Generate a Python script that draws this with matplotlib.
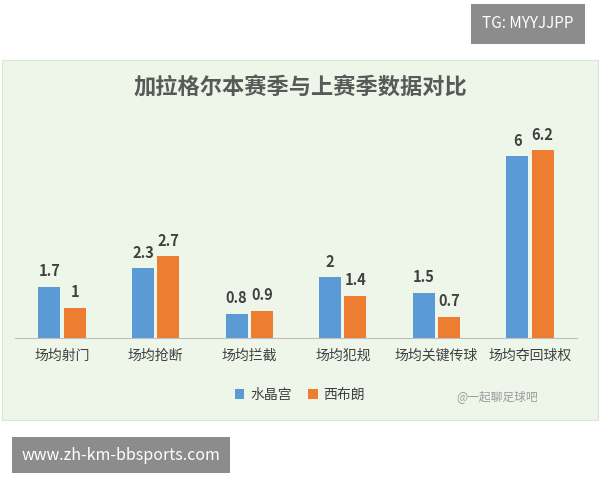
import matplotlib.pyplot as plt
from matplotlib.patches import Rectangle
import numpy as np

plt.rcParams['font.family'] = ['Noto Sans CJK SC', 'DejaVu Sans']

categories = ['场均射门', '场均抢断', '场均拦截', '场均犯规', '场均关键传球', '场均夺回球权']
palace = [1.7, 2.3, 0.8, 2, 1.5, 6]
wba = [1, 2.7, 0.9, 1.4, 0.7, 6.2]
series_names = ['水晶宫', '西布朗']
colors = ['#5b9bd5', '#ed7d31']

fig = plt.figure(figsize=(6, 4.8), dpi=100)
fig.patch.set_facecolor('white')

# light green chart panel
fig.add_artist(Rectangle((0.003, 1 - 420 / 480), 0.994, 360 / 480,
                         transform=fig.transFigure, facecolor='#eef6ea',
                         edgecolor='#d9e6d3', lw=0.8, zorder=0))

ax = fig.add_axes([15.2 / 600, 1 - 338 / 480, 561.6 / 600, 212 / 480])
ax.set_facecolor('none')
x = np.arange(len(categories))
w = 0.235
off = 0.135
ax.bar(x - off, palace, w, color=colors[0], label=series_names[0])
ax.bar(x + off, wba, w, color=colors[1], label=series_names[1])
for xi, a, b in zip(x, palace, wba):
    ax.text(xi - off, a + 0.25, f'{a:g}', ha='center', va='bottom',
            fontsize=10.5, fontweight='bold', color='#404040')
    ax.text(xi + off, b + 0.25, f'{b:g}', ha='center', va='bottom',
            fontsize=10.5, fontweight='bold', color='#404040')
ax.set_xlim(-0.5, len(categories) - 0.5)
ax.set_ylim(0, 7)
ax.set_yticks([])
ax.set_xticks(x)
ax.set_xticklabels(categories, fontsize=10, color='#404040')
ax.tick_params(axis='x', length=0, pad=8)
for s in ['top', 'right', 'left']:
    ax.spines[s].set_visible(False)
ax.spines['bottom'].set_color('#bfbfbf')

fig.text(0.5, 1 - 88 / 480, '加拉格尔本赛季与上赛季数据对比', ha='center',
         va='center', fontsize=16, fontweight='bold', color='#595959')

fig.legend(loc='center', bbox_to_anchor=(0.5, 1 - 395 / 480), ncol=2,
           frameon=False, fontsize=10, handlelength=0.7, handleheight=0.7,
           columnspacing=1.2, handletextpad=0.4, labelcolor='#404040')

fig.text(0.76, 1 - 397 / 480, '@一起聊足球吧', ha='left', va='center',
         fontsize=8.5, color='#9a9a9a')

fig.text(528 / 600, 1 - 24 / 480, 'TG: MYYJJPP', ha='center', va='center',
         fontsize=11, color='white',
         bbox=dict(boxstyle='square,pad=0.75', facecolor='#8c8c8c', edgecolor='none'))
fig.text(121 / 600, 1 - 455 / 480, 'www.zh-km-bbsports.com', ha='center',
         va='center', fontsize=11.5, color='white',
         bbox=dict(boxstyle='square,pad=0.6', facecolor='#8c8c8c', edgecolor='none'))

fig.savefig('out.png', dpi=100)
